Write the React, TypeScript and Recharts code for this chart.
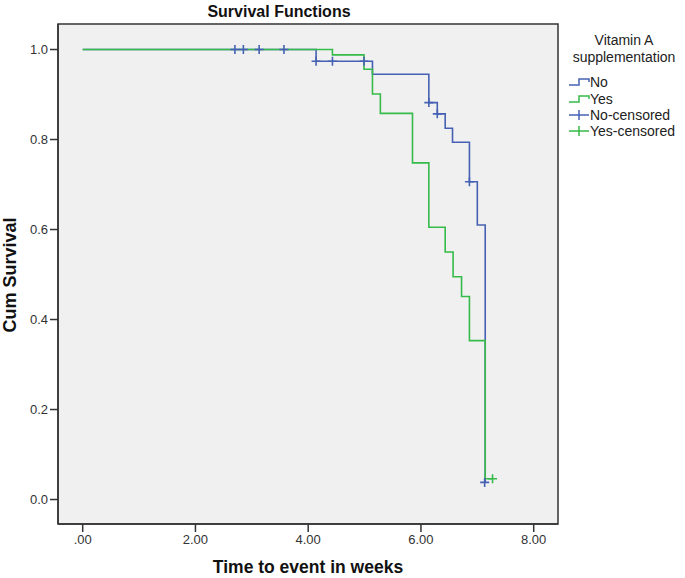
import React from 'react';
import { ComposedChart, Line, Scatter, XAxis, YAxis, ReferenceArea } from 'recharts';

// Kaplan-Meier steps
const noTimes = [0, 4.14, 5.14, 6.14, 6.29, 6.43, 6.56, 6.86, 7.0, 7.14];
const noSurvival = [1, 0.974, 0.945, 0.882, 0.857, 0.825, 0.794, 0.706, 0.61, 0.038];
const yesTimes = [0, 4.43, 4.99, 5.14, 5.28, 5.85, 6.14, 6.43, 6.57, 6.72, 6.86, 7.14, 7.27];
const yesSurvival = [1, 0.988, 0.956, 0.901, 0.858, 0.748, 0.605, 0.55, 0.495, 0.451, 0.353, 0.046, 0.046];
const noCensoredTimes = [2.7, 2.85, 3.13, 3.57, 4.14, 4.43, 4.99, 6.14, 6.29, 6.86, 7.13];
const noCensoredSurvival = [1, 1, 1, 1, 0.974, 0.974, 0.974, 0.882, 0.857, 0.706, 0.038];
const yesCensoredTimes = [7.27];
const yesCensoredSurvival = [0.046];
const xTicks = [0, 2, 4, 6, 8];
const yTicks = [0, 0.2, 0.4, 0.6, 0.8, 1.0];
const legendLabels = ['No', 'Yes', 'No-censored', 'Yes-censored'];

const X_MIN = -0.438;
const X_MAX = 8.431;
const Y_MIN = -0.0544;
const Y_MAX = 1.0567;

const BLUE = '#4661B3';
const GREEN = '#36BB4A';
const FONT = '"Liberation Sans", Arial, sans-serif';

const zip = (ts: number[], ss: number[]) => ts.map((t, i) => ({ t, s: ss[i] }));
const noData = zip(noTimes, noSurvival);
const yesData = zip(yesTimes, yesSurvival);
const noCens = zip(noCensoredTimes, noCensoredSurvival);
const yesCens = zip(yesCensoredTimes, yesCensoredSurvival);

const makeCross = (color: string) => (props: any) => {
  const { cx, cy } = props;
  if (cx == null || cy == null) return <g />;
  return (
    <path
      d={`M${cx - 4.5},${cy}H${cx + 4.5}M${cx},${cy - 4.5}V${cy + 4.5}`}
      stroke={color}
      strokeWidth={1.6}
      fill="none"
    />
  );
};

export default function App() {
  const legendY = [82, 99, 115, 131];
  return (
    <div style={{ position: 'absolute', left: 0, top: 0, width: 685, height: 578, background: '#fff' }}>
      <ComposedChart width={685} height={578} margin={{ top: 24, right: 127, bottom: 0, left: 0 }}>
        <ReferenceArea
          x1={X_MIN}
          x2={X_MAX}
          y1={Y_MIN}
          y2={Y_MAX}
          fill="#F0F0F0"
          fillOpacity={1}
          stroke="#333"
          strokeWidth={1.5}
          ifOverflow="visible"
        />
        <XAxis
          type="number"
          dataKey="t"
          domain={[X_MIN, X_MAX]}
          ticks={xTicks}
          allowDataOverflow
          height={54}
          tickSize={8}
          tickMargin={3}
          axisLine={{ stroke: '#333', strokeWidth: 1.5 }}
          tickLine={{ stroke: '#333', strokeWidth: 1.5 }}
          tick={{ fill: '#333', fontSize: 13, fontFamily: FONT }}
          tickFormatter={(v: number) => (v === 0 ? '.00' : v.toFixed(2))}
        />
        <YAxis
          type="number"
          domain={[Y_MIN, Y_MAX]}
          ticks={yTicks}
          allowDataOverflow
          width={58}
          tickSize={8}
          tickMargin={2}
          axisLine={{ stroke: '#333', strokeWidth: 1.5 }}
          tickLine={{ stroke: '#333', strokeWidth: 1.5 }}
          tick={{ fill: '#333', fontSize: 13, fontFamily: FONT }}
          tickFormatter={(v: number) => v.toFixed(1)}
        />
        <Line
          data={noData}
          dataKey="s"
          type="stepAfter"
          stroke={BLUE}
          strokeWidth={1.6}
          dot={false}
          activeDot={false}
          isAnimationActive={false}
        />
        <Line
          data={yesData}
          dataKey="s"
          type="stepAfter"
          stroke={GREEN}
          strokeWidth={1.6}
          dot={false}
          activeDot={false}
          isAnimationActive={false}
        />
        <Scatter data={noCens} dataKey="s" shape={makeCross(BLUE)} isAnimationActive={false} />
        <Scatter data={yesCens} dataKey="s" shape={makeCross(GREEN)} isAnimationActive={false} />
      </ComposedChart>
      <svg
        width={685}
        height={578}
        style={{ position: 'absolute', left: 0, top: 0, pointerEvents: 'none' }}
      >
        <text x={279} y={11} textAnchor="middle" dominantBaseline="central" fontFamily={FONT} fontWeight="bold" fontSize={16} fill="#111">
          Survival Functions
        </text>
        <text x={308} y={567} textAnchor="middle" dominantBaseline="central" fontFamily={FONT} fontWeight="bold" fontSize={17.5} fill="#111">
          Time to event in weeks
        </text>
        <text
          x={10}
          y={275}
          textAnchor="middle"
          dominantBaseline="central"
          fontFamily={FONT}
          fontWeight="bold"
          fontSize={18}
          fill="#111"
          transform="rotate(-90 10 275)"
        >
          Cum Survival
        </text>
        <text x={624} y={40} textAnchor="middle" dominantBaseline="central" fontFamily={FONT} fontSize={14} fill="#222">
          Vitamin A
        </text>
        <text x={624} y={57} textAnchor="middle" dominantBaseline="central" fontFamily={FONT} fontSize={14} fill="#222">
          supplementation
        </text>
        {legendLabels.map((lab, i) => {
          const y = legendY[i];
          const color = i % 2 === 0 ? BLUE : GREEN;
          const icon =
            i < 2 ? (
              <path d={`M569,${y + 3}H579V${y - 3}H589V${y}`} stroke={color} strokeWidth={1.5} fill="none" />
            ) : (
              <path d={`M569,${y}H589M579,${y - 5}V${y + 5}`} stroke={color} strokeWidth={1.5} fill="none" />
            );
          return (
            <g key={lab}>
              {icon}
              <text x={590} y={y} dominantBaseline="central" fontFamily={FONT} fontSize={14} fill="#222">
                {lab}
              </text>
            </g>
          );
        })}
      </svg>
    </div>
  );
}
